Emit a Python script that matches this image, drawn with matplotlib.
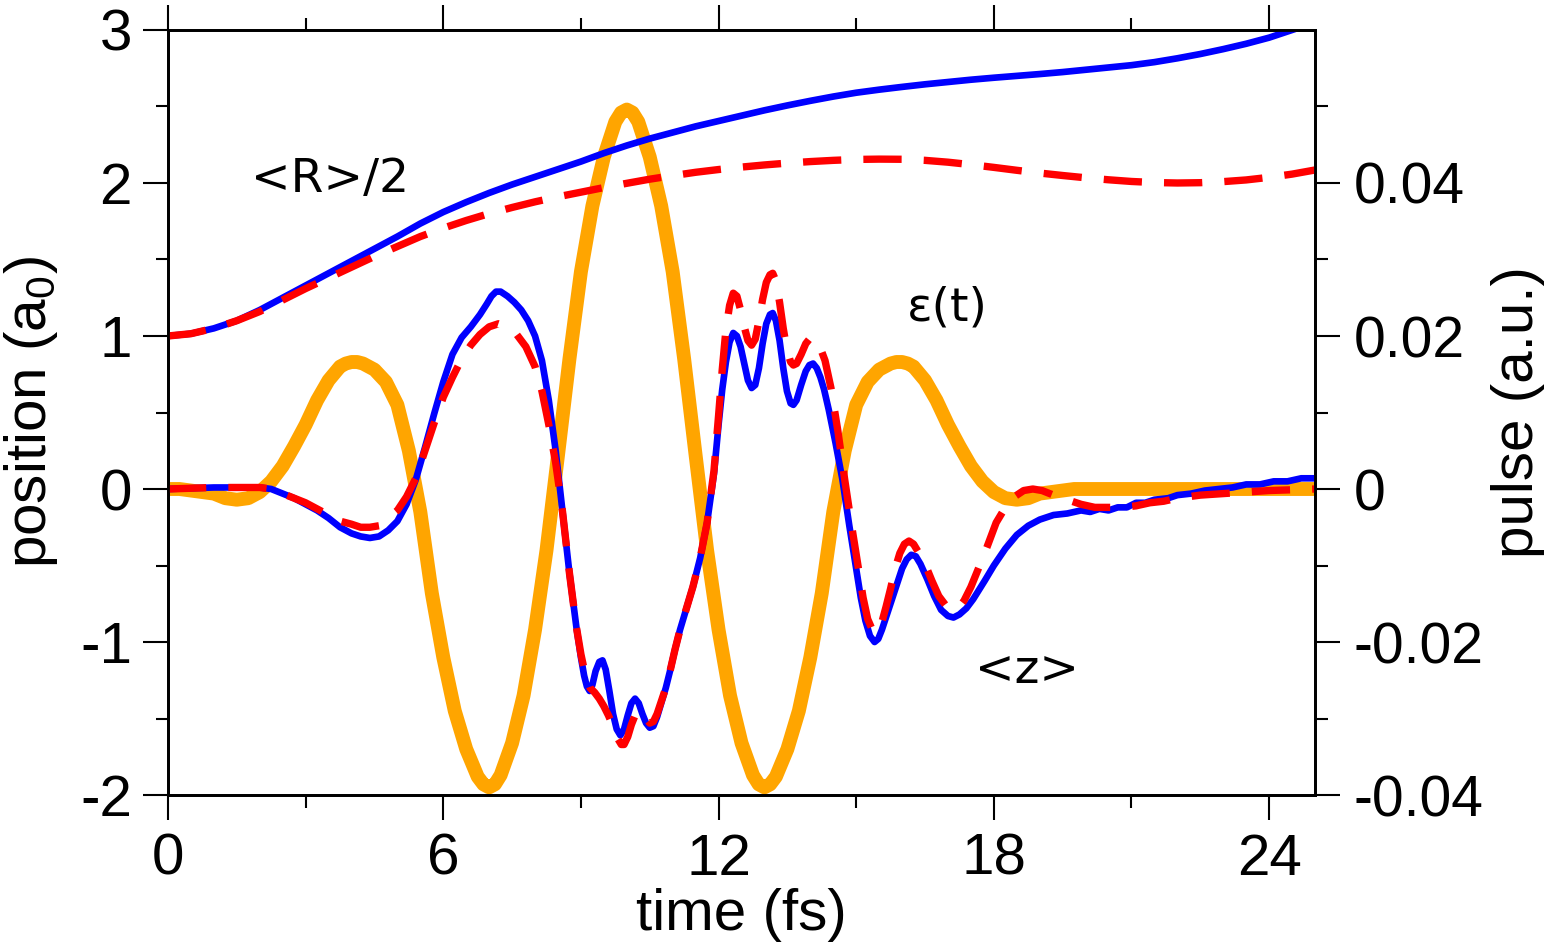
import matplotlib
matplotlib.use('Agg')
import matplotlib.pyplot as plt

# Configuración de fuentes
plt.rcParams['font.family'] = ['Liberation Sans', 'DejaVu Sans']
plt.rcParams['axes.unicode_minus'] = False
plt.rcParams['mathtext.default'] = 'regular'

# <R>/2 (solución exacta, línea azul)
t_R = [0, 0.5, 1, 1.5, 2, 2.5, 3, 3.5, 4, 4.5, 5, 5.5, 6, 6.5, 7, 7.5, 8, 8.5, 9, 9.5,
       10, 10.5, 11, 11.5, 12, 12.5, 13, 13.5, 14, 14.5, 15, 15.5, 16, 16.5, 17, 17.5,
       18, 18.5, 19, 19.5, 20, 20.5, 21, 21.5, 22, 22.5, 23, 23.5, 24, 24.5]
R_exacto = [1.00, 1.015, 1.05, 1.10, 1.17, 1.25, 1.33, 1.41, 1.49, 1.57, 1.65, 1.735, 1.81,
            1.875, 1.935, 1.99, 2.04, 2.09, 2.14, 2.195, 2.245, 2.29, 2.33, 2.37, 2.405, 2.44,
            2.475, 2.507, 2.537, 2.565, 2.59, 2.61, 2.628, 2.645, 2.66, 2.675, 2.688, 2.70,
            2.712, 2.725, 2.74, 2.755, 2.77, 2.79, 2.815, 2.843, 2.875, 2.91, 2.95, 3.00]

# <R>/2 (modelo aproximado, línea roja discontinua)
t_R_aprox = [0, 0.5, 1, 1.5, 2, 2.5, 3, 3.5, 4, 4.5, 5, 5.5, 6, 6.5, 7, 7.5, 8, 8.5, 9, 9.5,
             10, 10.5, 11, 11.5, 12, 12.5, 13, 13.5, 14, 14.5, 15, 15.5, 16, 16.5, 17, 17.5,
             18, 18.5, 19, 19.5, 20, 20.5, 21, 21.5, 22, 22.5, 23, 23.5, 24, 24.5, 25]
R_aprox = [1.00, 1.015, 1.05, 1.10, 1.16, 1.235, 1.31, 1.38, 1.45, 1.52, 1.585, 1.65, 1.705,
           1.755, 1.80, 1.84, 1.877, 1.91, 1.94, 1.97, 1.998, 2.025, 2.048, 2.07, 2.088,
           2.104, 2.118, 2.13, 2.14, 2.148, 2.154, 2.156, 2.155, 2.148, 2.136, 2.12, 2.102,
           2.083, 2.065, 2.049, 2.034, 2.021, 2.01, 2.003, 2.0, 2.002, 2.009, 2.02, 2.037,
           2.058, 2.085]

# <z> (solución exacta, línea azul)
t_z = [0, 0.5, 1.0, 1.5, 2.0, 2.25, 2.5, 2.75, 3.0, 3.25, 3.5, 3.75, 4.0, 4.2, 4.4, 4.6,
       4.8, 5.0, 5.2, 5.4, 5.6, 5.8, 6.0, 6.2, 6.4, 6.6, 6.8, 6.95, 7.05, 7.15, 7.25, 7.4,
       7.55, 7.7, 7.85, 8.0, 8.15, 8.3, 8.45, 8.6, 8.75, 8.9, 9.0, 9.07, 9.13, 9.19, 9.25,
       9.32, 9.4, 9.47, 9.54, 9.62, 9.7, 9.78, 9.86, 9.94, 10.02, 10.1, 10.18, 10.26, 10.34,
       10.42, 10.5, 10.58, 10.66, 10.75, 10.85, 10.95, 11.05, 11.16, 11.3, 11.44, 11.6,
       11.75, 11.9, 12.0, 12.08, 12.16, 12.24, 12.32, 12.4, 12.48, 12.56, 12.64, 12.72,
       12.8, 12.88, 12.96, 13.04, 13.12, 13.18, 13.25, 13.33, 13.41, 13.49, 13.57, 13.63,
       13.7, 13.8, 13.9, 13.98, 14.06, 14.14, 14.22, 14.3, 14.4, 14.55, 14.7, 14.85, 15.0,
       15.1, 15.2, 15.3, 15.4, 15.48, 15.56, 15.66, 15.78, 15.9, 16.0, 16.1, 16.2, 16.3,
       16.4, 16.55, 16.7, 16.85, 17.0, 17.12, 17.25, 17.4, 17.55, 17.8, 18.0, 18.25, 18.5,
       18.75, 19.0, 19.3, 19.6, 19.9, 20.1, 20.3, 20.5, 20.7, 20.9, 21.1, 21.3, 21.5, 21.8,
       22.0, 22.3, 22.6, 22.9, 23.2, 23.5, 23.8, 24.1, 24.4, 24.7, 25.0]
z_exacto = [0.0, 0.005, 0.01, 0.01, 0.01, 0.0, -0.03, -0.06, -0.10, -0.14, -0.19, -0.25,
            -0.29, -0.31, -0.32, -0.31, -0.27, -0.21, -0.10, 0.06, 0.27, 0.49, 0.70, 0.88,
            0.99, 1.06, 1.14, 1.21, 1.26, 1.29, 1.29, 1.26, 1.22, 1.17, 1.10, 1.00, 0.84,
            0.58, 0.25, -0.15, -0.55, -0.90, -1.10, -1.22, -1.29, -1.32, -1.28, -1.19,
            -1.13, -1.12, -1.18, -1.32, -1.47, -1.57, -1.61, -1.57, -1.48, -1.40, -1.37,
            -1.40, -1.47, -1.53, -1.56, -1.55, -1.49, -1.40, -1.30, -1.18, -1.05, -0.92,
            -0.78, -0.64, -0.45, -0.22, 0.10, 0.42, 0.65, 0.83, 0.96, 1.02, 1.00, 0.93, 0.82,
            0.71, 0.66, 0.68, 0.79, 0.95, 1.08, 1.14, 1.15, 1.10, 0.97, 0.79, 0.64, 0.56,
            0.55, 0.58, 0.68, 0.77, 0.81, 0.82, 0.79, 0.73, 0.65, 0.52, 0.30, 0.06, -0.24,
            -0.52, -0.71, -0.86, -0.96, -1.00, -0.98, -0.92, -0.83, -0.72, -0.61, -0.52,
            -0.46, -0.43, -0.44, -0.49, -0.59, -0.70, -0.79, -0.83, -0.84, -0.82, -0.78,
            -0.72, -0.60, -0.50, -0.39, -0.30, -0.24, -0.20, -0.17, -0.16, -0.14, -0.15,
            -0.13, -0.14, -0.12, -0.12, -0.09, -0.09, -0.07, -0.06, -0.04, -0.03, -0.01,
            0.0, 0.01, 0.03, 0.03, 0.05, 0.05, 0.07, 0.07]

# <z> (modelo aproximado, línea roja discontinua)
t_z_aprox = [0, 0.5, 1.0, 1.5, 2.0, 2.25, 2.5, 2.75, 3.0, 3.25, 3.5, 3.75, 4.0, 4.2, 4.4,
             4.6, 4.8, 5.0, 5.2, 5.4, 5.6, 5.8, 6.0, 6.2, 6.4, 6.6, 6.8, 7.0, 7.2, 7.4, 7.6,
             7.8, 8.0, 8.15, 8.3, 8.45, 8.6, 8.75, 8.9, 9.0, 9.1, 9.2, 9.3, 9.4, 9.5, 9.6, 9.7,
             9.8, 9.88, 9.94, 10.02, 10.1, 10.18, 10.26, 10.34, 10.42, 10.5, 10.58, 10.66,
             10.75, 10.85, 10.95, 11.05, 11.16, 11.3, 11.44, 11.6, 11.75, 11.9, 12.0, 12.08,
             12.16, 12.24, 12.32, 12.4, 12.48, 12.56, 12.64, 12.72, 12.8, 12.88, 12.96, 13.04,
             13.12, 13.18, 13.25, 13.33, 13.41, 13.49, 13.57, 13.63, 13.7, 13.8, 13.9, 13.98,
             14.04, 14.12, 14.22, 14.32, 14.45, 14.6, 14.75, 14.9, 15.05, 15.15, 15.25, 15.35,
             15.45, 15.55, 15.65, 15.75, 15.85, 15.95, 16.05, 16.15, 16.25, 16.35, 16.5,
             16.65, 16.8, 16.95, 17.1, 17.22, 17.35, 17.5, 17.65, 17.85, 18.05, 18.25, 18.45,
             18.65, 18.85, 19.05, 19.3, 19.6, 19.9, 20.2, 20.5, 20.8, 21.1, 21.4, 21.7, 22.0,
             22.5, 23.0, 23.5, 24.0, 24.5, 25.0]
z_aprox = [0.0, 0.005, 0.01, 0.01, 0.01, 0.0, -0.03, -0.06, -0.09, -0.13, -0.17, -0.21,
           -0.23, -0.25, -0.25, -0.24, -0.19, -0.14, -0.05, 0.07, 0.25, 0.43, 0.60, 0.73,
           0.85, 0.94, 1.01, 1.06, 1.08, 1.06, 1.01, 0.93, 0.80, 0.64, 0.42, 0.17, -0.15,
           -0.55, -0.90, -1.08, -1.22, -1.30, -1.33, -1.37, -1.42, -1.48, -1.55, -1.63,
           -1.67, -1.67, -1.62, -1.54, -1.48, -1.45, -1.46, -1.50, -1.53, -1.52, -1.47,
           -1.39, -1.30, -1.18, -1.05, -0.92, -0.78, -0.64, -0.45, -0.22, 0.12, 0.48, 0.78,
           1.04, 1.20, 1.28, 1.26, 1.17, 1.06, 0.97, 0.94, 0.98, 1.10, 1.24, 1.35, 1.40,
           1.41, 1.36, 1.22, 1.05, 0.91, 0.83, 0.81, 0.82, 0.88, 0.95, 0.98, 0.99, 0.97,
           0.92, 0.84, 0.66, 0.38, 0.06, -0.24, -0.52, -0.71, -0.85, -0.92, -0.94, -0.88,
           -0.77, -0.65, -0.52, -0.42, -0.36, -0.34, -0.36, -0.41, -0.49, -0.60, -0.70,
           -0.76, -0.79, -0.78, -0.73, -0.64, -0.53, -0.38, -0.22, -0.12, -0.05, -0.01, 0.0,
           -0.01, -0.04, -0.07, -0.10, -0.12, -0.12, -0.12, -0.11, -0.09, -0.08, -0.06,
           -0.04, -0.03, -0.02, -0.01, -0.005, 0.0]

# Pulso láser epsilon(t) en unidades atómicas
t_pulso = [0, 0.25, 0.5, 0.75, 1, 1.25, 1.5, 1.75, 2, 2.25, 2.5, 2.75, 3, 3.25, 3.5, 3.75,
           3.875, 4, 4.125, 4.25, 4.5, 4.75, 5, 5.25, 5.5, 5.75, 6, 6.25, 6.5, 6.75, 6.875,
           7, 7.125, 7.25, 7.5, 7.75, 8, 8.25, 8.5, 8.75, 9, 9.25, 9.5, 9.75, 9.875, 10,
           10.125, 10.25, 10.5, 10.75, 11, 11.25, 11.5, 11.75, 12, 12.25, 12.5, 12.75,
           12.875, 13, 13.125, 13.25, 13.5, 13.75, 14, 14.25, 14.5, 14.75, 15, 15.25, 15.5,
           15.75, 15.875, 16, 16.125, 16.25, 16.5, 16.75, 17, 17.25, 17.5, 17.75, 18, 18.25,
           18.5, 18.75, 19, 19.25, 19.5, 19.75, 20, 21, 22, 23, 24, 25]
pulso = [0.0, 0.0, -0.0002, -0.0004, -0.0006, -0.0012, -0.0014, -0.0012, -0.0004, 0.0010,
         0.0030, 0.0056, 0.0084, 0.0116, 0.0142, 0.0160, 0.0164, 0.0166, 0.0166, 0.0164,
         0.0156, 0.0140, 0.0110, 0.0050, -0.0030, -0.0136, -0.0220, -0.0290, -0.0340,
         -0.0376, -0.0386, -0.0390, -0.0386, -0.0374, -0.0332, -0.0270, -0.0184, -0.0080,
         0.0044, 0.0170, 0.0284, 0.0370, 0.0434, 0.0480, 0.0492, 0.0496, 0.0492, 0.0480,
         0.0434, 0.0370, 0.0284, 0.0170, 0.0044, -0.0080, -0.0184, -0.0270, -0.0332,
         -0.0374, -0.0386, -0.0390, -0.0386, -0.0376, -0.0340, -0.0290, -0.0220, -0.0136,
         -0.0030, 0.0050, 0.0110, 0.0140, 0.0156, 0.0164, 0.0166, 0.0166, 0.0164, 0.0160,
         0.0142, 0.0116, 0.0084, 0.0056, 0.0030, 0.0010, -0.0004, -0.0012, -0.0014,
         -0.0012, -0.0006, -0.0004, -0.0002, 0.0, 0.0, 0.0, 0.0, 0.0, 0.0, 0.0]

# Figura y ejes
fig = plt.figure(figsize=(15.44, 9.46), dpi=100)
ax = fig.add_axes([0.1088, 0.1596, 0.7429, 0.8087])
ax2 = ax.twinx()
ax.set_zorder(ax2.get_zorder() + 1)
ax.patch.set_visible(False)

# Pulso en el eje derecho (debajo de las demás curvas)
ax2.plot(t_pulso, pulso, color='orange', lw=10, solid_joinstyle='round')

# Posiciones en el eje izquierdo
ax.plot(t_R, R_exacto, color='blue', lw=4.8)
ax.plot(t_z, z_exacto, color='blue', lw=4.8)
ax.plot(t_R_aprox, R_aprox, color='red', lw=5.3, dashes=(5.2, 3.0))
ax.plot(t_z_aprox, z_aprox, color='red', lw=5.3, dashes=(5.2, 3.0))

# Etiquetas dentro del gráfico
ax.text(1.80, 1.94, '<R>/2', fontsize=34, family='DejaVu Sans', va='baseline')
ax.text(16.10, 1.10, 'ε(t)', fontsize=34, family='DejaVu Sans', va='baseline')
ax.text(17.58, -1.27, '<z>', fontsize=34, family='DejaVu Sans', va='baseline')

# Límites y marcas
ax.set_xlim(0, 25)
ax.set_ylim(-2, 3)
ax2.set_ylim(-0.04, 0.06)
ax.set_xticks([0, 6, 12, 18, 24])
ax.set_xticks([3, 9, 15, 21], minor=True)
ax.set_yticks([-2, -1, 0, 1, 2, 3])
ax.set_yticks([-1.5, -0.5, 0.5, 1.5, 2.5], minor=True)
ax2.set_yticks([-0.04, -0.02, 0, 0.02, 0.04])
ax2.set_yticklabels(['-0.04', '-0.02', '0', '0.02', '0.04'])
ax2.set_yticks([-0.03, -0.01, 0.01, 0.03, 0.05], minor=True)

ax.tick_params(which='both', direction='out', top=True, right=False, width=1.5,
               labelsize=42, colors='black')
ax.tick_params(which='major', length=18)
ax.tick_params(which='minor', length=9)
ax.tick_params(axis='x', pad=9)
ax.tick_params(axis='y', pad=8)
ax2.tick_params(which='both', direction='out', width=1.5, labelsize=41)
ax2.tick_params(which='major', length=18, pad=10)
ax2.tick_params(which='minor', length=9)

for a in (ax, ax2):
    for s in a.spines.values():
        s.set_linewidth(2)

ax.set_xlabel('time (fs)', fontsize=42)
ax.set_ylabel('position (a$_0$)', fontsize=42)
ax2.set_ylabel('pulse (a.u.)', fontsize=42)
ax.xaxis.set_label_coords(0.5, -0.121)
ax.yaxis.set_label_coords(-0.094, 0.5)
ax2.yaxis.set_label_coords(1.153, 0.5)

fig.savefig('out.png', dpi=100)
